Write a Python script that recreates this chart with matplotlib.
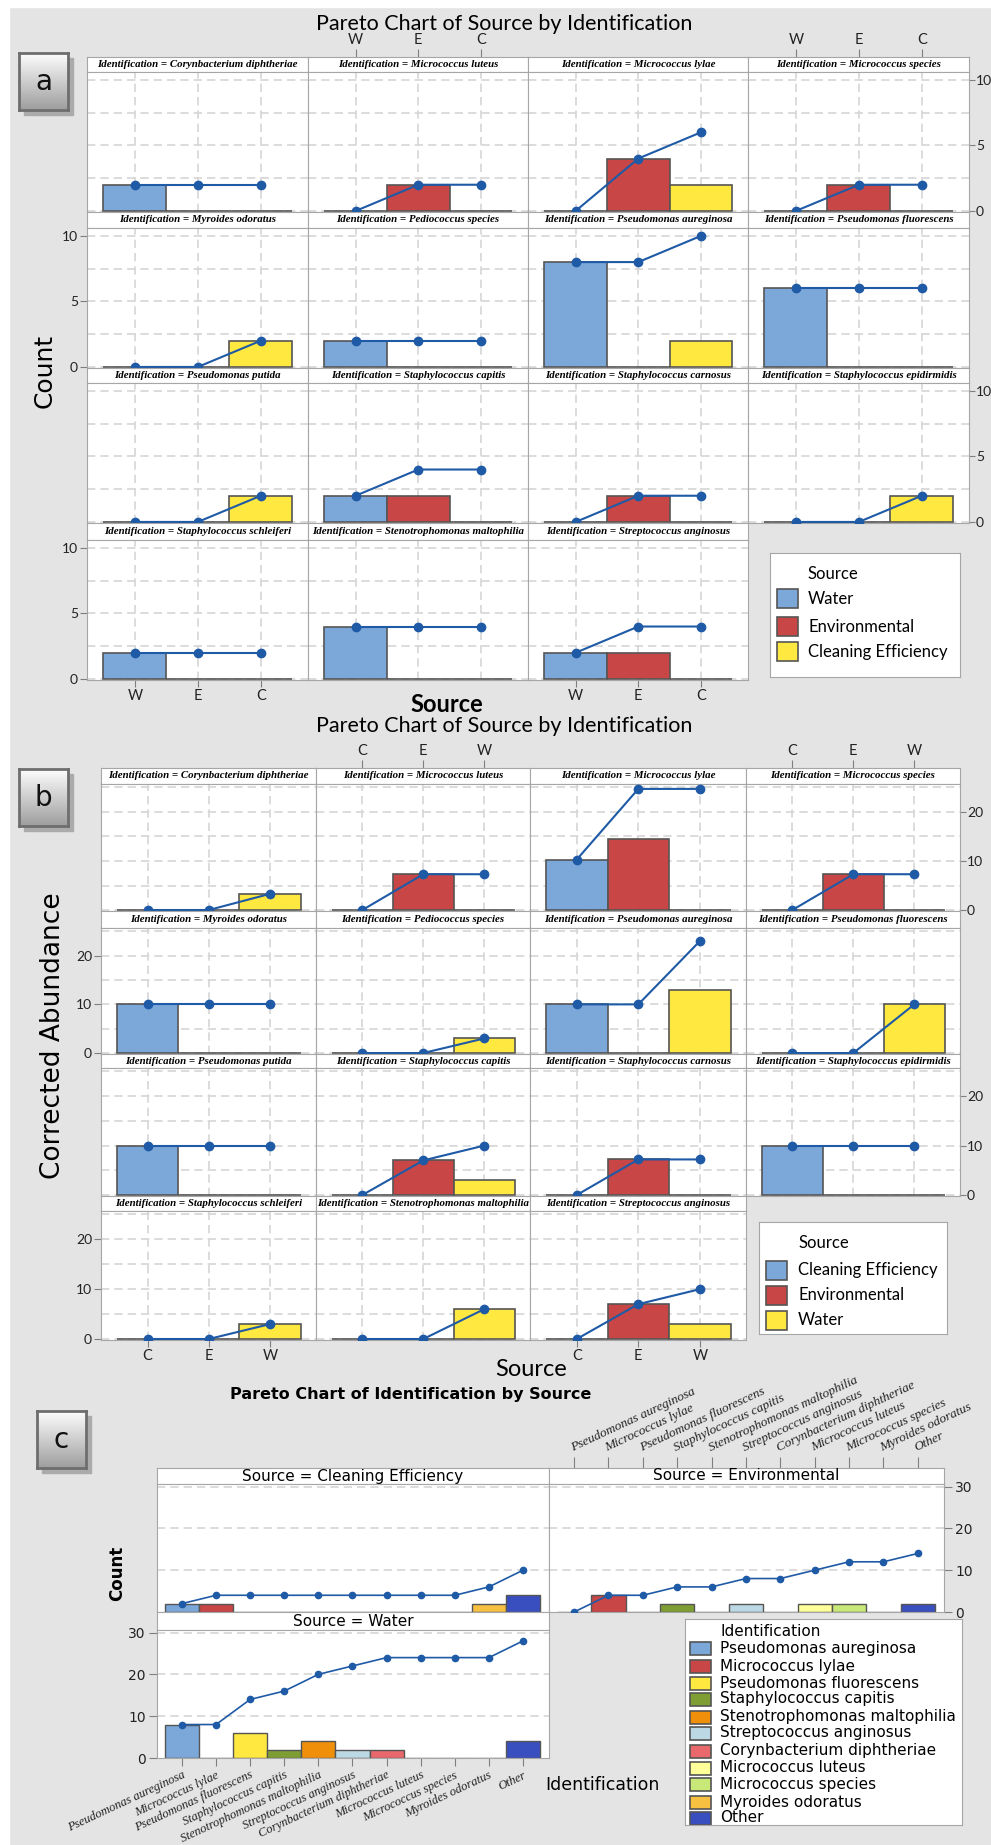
import numpy as np
import matplotlib.pyplot as plt
from matplotlib.patches import Rectangle

W, H = 991, 1845

# panel a / b: one small chart per species
species = ["Corynbacterium diphtheriae", "Micrococcus luteus", "Micrococcus lylae", "Micrococcus species",
           "Myroides odoratus", "Pediococcus species", "Pseudomonas aureginosa", "Pseudomonas fluorescens",
           "Pseudomonas putida", "Staphylococcus capitis", "Staphylococcus carnosus", "Staphylococcus epidirmidis",
           "Staphylococcus schleiferi", "Stenotrophomonas maltophilia", "Streptococcus anginosus"]

# a: counts, order W, E, C
ticks_a = ["W", "E", "C"]
names_a = ["Water", "Environmental", "Cleaning Efficiency"]
count_water = [2, 0, 0, 0, 0, 2, 8, 6, 0, 2, 0, 0, 2, 4, 2]
count_env = [0, 2, 4, 2, 0, 0, 0, 0, 0, 2, 2, 0, 0, 0, 2]
count_clean = [0, 0, 2, 0, 2, 0, 2, 0, 2, 0, 0, 2, 0, 0, 0]

# b: corrected abundance, order C, E, W
ticks_b = ["C", "E", "W"]
names_b = ["Cleaning Efficiency", "Environmental", "Water"]
abund_clean = [0, 0, 10.3, 0, 10, 0, 10, 0, 10, 0, 0, 10, 0, 0, 0]
abund_env = [0, 7.3, 14.4, 7.3, 0, 0, 0, 0, 0, 7, 7.2, 0, 0, 0, 7]
abund_water = [3.3, 0, 0, 0, 0, 3, 13, 10, 0, 3, 0, 0, 3, 6, 3]

# c: counts by source
ident = ["Pseudomonas aureginosa", "Micrococcus lylae", "Pseudomonas fluorescens", "Staphylococcus capitis",
         "Stenotrophomonas maltophilia", "Streptococcus anginosus", "Corynbacterium diphtheriae",
         "Micrococcus luteus", "Micrococcus species", "Myroides odoratus", "Other"]
sources_c = ["Cleaning Efficiency", "Environmental", "Water"]
count_c_clean = [2, 2, 0, 0, 0, 0, 0, 0, 0, 2, 4]
count_c_env = [0, 4, 0, 2, 0, 2, 0, 2, 2, 0, 2]
count_c_water = [8, 0, 6, 2, 4, 2, 2, 0, 0, 0, 4]

blue, red, yellow = "#7BA7D9", "#C84646", "#FFE840"
colors_c = ["#7BA7D9", "#C84646", "#FFE840", "#7E9E34", "#F0900A", "#BCD8E4",
            "#E8686C", "#FFFF99", "#C8E878", "#F8C040", "#3A4FBF"]
line_col = "#1F5AA6"
grid_col = "#D6D6D6"
frame_col = "#A6A6A6"
tick_col = "#7F7F7F"
bg = "#E4E4E4"

plt.rcParams["font.family"] = "Lato"


def box(x0, y0, x1, y1):
    return [x0 / W, 1 - y1 / H, (x1 - x0) / W, (y1 - y0) / H]


def ftext(x, y, s, **kw):
    fig.text(x / W, 1 - y / H, s, ha="center", va="center", **kw)


def strip(x0, y0, x1, y1, label, **kw):
    s = fig.add_axes(box(x0, y0, x1, y1))
    s.set_xticks([])
    s.set_yticks([])
    s.set_facecolor("white")
    for sp in s.spines.values():
        sp.set_color(frame_col)
    s.text(0.5, 0.5, label, ha="center", va="center", transform=s.transAxes, **kw)
    return s


def legend_box(x0, y0, x1, y1, title, ty, tx, px, pw, ph, rows, names, cols, **kw):
    lax = fig.add_axes(box(x0, y0, x1, y1))
    lax.set_xlim(x0, x1)
    lax.set_ylim(y1, y0)
    lax.set_xticks([])
    lax.set_yticks([])
    for sp in lax.spines.values():
        sp.set_color(frame_col)
    lax.text(tx, ty, title, va="center", ha="left", **kw)
    for name, col, yc in zip(names, cols, rows):
        lax.add_patch(Rectangle((px, yc - ph / 2), pw, ph, fc=col, ec="#555555", lw=1.2))
        lax.text(tx, yc, name, va="center", ha="left", clip_on=True, **kw)


def label_box(x0, y0, x1, y1, letter):
    fig.add_artist(Rectangle(((x0 + 5) / W, 1 - (y1 + 5) / H), (x1 - x0) / W, (y1 - y0) / H,
                             transform=fig.transFigure, color="#ABABAB", zorder=1))
    b = fig.add_axes(box(x0, y0, x1, y1))
    b.set_zorder(2)
    b.imshow(np.linspace(0.99, 0.62, 60)[:, None], cmap="gray", vmin=0, vmax=1,
             aspect="auto", extent=(0, 1, 0, 1))
    b.set_xticks([])
    b.set_yticks([])
    for sp in b.spines.values():
        sp.set_color("#6E6E6E")
        sp.set_linewidth(2)
    b.text(0.5, 0.5, letter, ha="center", va="center", transform=b.transAxes,
           family="DejaVu Sans", size=20, color="#111111")


def pareto_grid(cols, strips, tops, bases, series, colors, xt, ylim, yticks, ygrid):
    for i, name in enumerate(species):
        r, c = divmod(i, 4)
        x0, x1 = cols[c], cols[c + 1]
        s = strip(x0, strips[r], x1, tops[r], "Identification = " + name,
                  family="Liberation Serif", style="italic", weight="bold", size=7.8)
        if r == 0 and c in (1, 3):
            # top source letters sit above the strip
            s.set_xlim(-0.76, 2.75)
            s.set_xticks(range(3), xt, size=10.5)
            s.tick_params(top=True, labeltop=True, bottom=False, labelbottom=False,
                          color=tick_col, labelcolor="#222222", length=6, pad=1)
        ax = fig.add_axes(box(x0, tops[r], x1, bases[r]))
        vals = [v[i] for v in series]
        for g in ygrid:
            ax.axhline(g, color=grid_col, lw=1.2, ls=(0, (5, 3)), zorder=0)
        for g in range(3):
            ax.axvline(g, color=grid_col, lw=1.2, ls=(0, (5, 3)), zorder=0)
        ax.bar(range(3), vals, width=1, color=colors, edgecolor="#555555", lw=1.2, zorder=2)
        ax.plot(range(3), np.cumsum(vals), color=line_col, lw=1.5, marker="o", ms=6, zorder=3)
        ax.set_xlim(-0.76, 2.75)
        ax.set_ylim(*ylim)
        ax.set_xticks(range(3), xt, size=10.5)
        ax.set_yticks(yticks, [str(t) for t in yticks], size=10)
        ax.tick_params(left=False, bottom=False, labelleft=False, labelbottom=False,
                       color=tick_col, labelcolor="#222222", length=5, pad=1.5)
        if c == 0 and r in (1, 3):
            ax.tick_params(left=True, labelleft=True)
        if c == 3 and r in (0, 2):
            ax.tick_params(right=True, labelright=True, length=4, pad=1)
        if r == 3 and c in (0, 2):
            ax.tick_params(bottom=True, labelbottom=True)
        for sp in ax.spines.values():
            sp.set_color(frame_col)


fig = plt.figure(figsize=(W / 100, H / 100), dpi=100, facecolor=bg)
fig.add_artist(Rectangle((0, 0), 9 / W, 1, transform=fig.transFigure, color="white", zorder=0))
fig.add_artist(Rectangle((0, 1 - 7 / H), 1, 7 / H, transform=fig.transFigure, color="white", zorder=0))

# ---------- a ----------
pareto_grid([87, 308, 528, 748, 969], [57, 212, 368, 523], [72, 228, 383, 540], [212, 368, 523, 680],
            [count_water, count_env, count_clean], [blue, red, yellow], ticks_a,
            (-0.08, 10.6), [0, 5, 10], [0, 2.5, 5, 7.5, 10])
ftext(504, 24, "Pareto Chart of Source by Identification", size=15.5)
ftext(447, 704, "Source", size=17, weight="bold")
ftext(45, 371, "Count", size=18, rotation=90, family="DejaVu Sans")
legend_box(770, 553, 960, 677, "Source", 574, 808, 777, 21, 19, [599, 627, 652],
           names_a, [blue, red, yellow], size=12)
label_box(19, 53, 68, 110, "a")

# ---------- b ----------
pareto_grid([101, 316, 530, 746, 960], [768, 911, 1054, 1196], [784, 928, 1068, 1211], [911, 1054, 1196, 1340],
            [abund_clean, abund_env, abund_water], [blue, red, yellow], ticks_b,
            (-0.2, 25.7), [0, 10, 20], [0, 5, 10, 15, 20, 25])
ftext(504, 726, "Pareto Chart of Source by Identification", size=15.5)
ftext(531, 1369, "Source", size=17)
ftext(53, 1036, "Corrected Abundance", size=19, rotation=90, family="DejaVu Sans")
legend_box(759, 1222, 947, 1334, "Source", 1243, 798, 766, 21, 19, [1270, 1295, 1320],
           names_b, [blue, red, yellow], size=12)
label_box(19, 769, 68, 826, "b")

# ---------- c ----------
cols_c = [157, 549, 944]
strips_c = [1468, 1612]
tops_c = [1484, 1630]
bases_c = [1612, 1758]
where = [(0, 0), (0, 1), (1, 0)]
for j, (name, vals) in enumerate(zip(sources_c, [count_c_clean, count_c_env, count_c_water])):
    r, c = where[j]
    x0, x1 = cols_c[c], cols_c[c + 1]
    s = strip(x0, strips_c[r], x1, tops_c[r], "Source = " + name, family="DejaVu Sans", size=11)
    if j == 1:
        s.set_xlim(-0.73, 10.76)
        s.set_xticks(range(len(ident)), ident, family="Liberation Serif", style="italic", size=9.5,
                     rotation=25, rotation_mode="anchor", ha="left", va="bottom")
        s.tick_params(top=True, labeltop=True, bottom=False, labelbottom=False,
                      color=tick_col, labelcolor="#222222", length=8, pad=2)
    ax = fig.add_axes(box(x0, tops_c[r], x1, bases_c[r]))
    for g in (10, 20, 30):
        ax.axhline(g, color=grid_col, lw=1.2, ls=(0, (5, 3)), zorder=0)
    ax.bar(range(len(ident)), vals, width=1, color=colors_c, edgecolor="#555555", lw=1, zorder=2)
    ax.plot(range(len(ident)), np.cumsum(vals), color=line_col, lw=1.2, marker="o", ms=4.5, zorder=3)
    ax.set_xlim(-0.73, 10.76)
    ax.set_ylim(0, 30.6)
    ax.set_xticks(range(len(ident)), ident, family="Liberation Serif", style="italic", size=9,
                  rotation=25, rotation_mode="anchor", ha="right", va="top")
    ax.set_yticks([0, 10, 20, 30], ["0", "10", "20", "30"], family="DejaVu Sans", size=10)
    ax.tick_params(left=False, bottom=False, labelleft=False, labelbottom=False,
                   color=tick_col, labelcolor="#222222", length=6, pad=2)
    if j == 1:
        ax.tick_params(right=True, labelright=True)
    if j == 2:
        ax.tick_params(left=True, labelleft=True, bottom=True, labelbottom=True)
    for sp in ax.spines.values():
        sp.set_color(frame_col)

ftext(411, 1395, "Pareto Chart of Identification by Source", size=11.5, weight="bold", family="DejaVu Sans")
ftext(117, 1573, "Count", size=12, weight="bold", rotation=90, family="DejaVu Sans")
ftext(602, 1785, "Identification", size=12.5, family="DejaVu Sans")
legend_box(685, 1619, 962, 1825, "Identification", 1632, 720, 690, 21, 13,
           [1648, 1666, 1683, 1699, 1717, 1733, 1751, 1768, 1784, 1802, 1818],
           ident, colors_c, size=11, family="DejaVu Sans")
label_box(37, 1411, 86, 1468, "c")

fig.savefig("out.png", dpi=100, facecolor=bg)
